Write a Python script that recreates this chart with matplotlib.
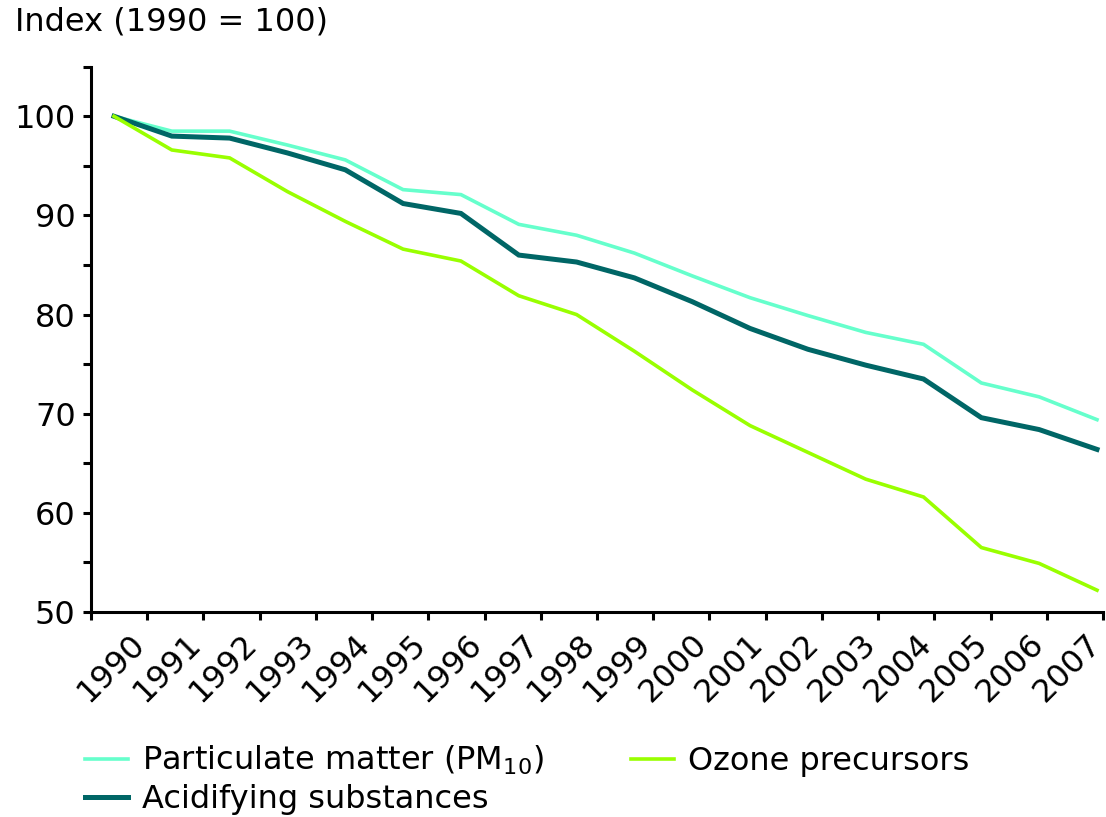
import numpy as np
import matplotlib
matplotlib.use("Agg")
import matplotlib.pyplot as plt

years = list(range(1990, 2008))
year_labels = [str(y) for y in years]

pm10 = [100.0, 98.5, 98.5, 97.1, 95.6, 92.6, 92.1, 89.1, 88.0, 86.2,
        83.9, 81.7, 79.9, 78.2, 77.0, 73.1, 71.7, 69.4]
acidifying = [100.0, 98.0, 97.8, 96.3, 94.6, 91.2, 90.2, 86.0, 85.3, 83.7,
              81.3, 78.6, 76.5, 74.9, 73.5, 69.6, 68.4, 66.4]
ozone = [100.0, 96.6, 95.8, 92.4, 89.4, 86.6, 85.4, 81.9, 80.0, 76.3,
         72.4, 68.8, 66.1, 63.4, 61.6, 56.5, 54.9, 52.2]

series_names = ["Particulate matter (PM$_{10}$)", "Acidifying substances", "Ozone precursors"]
series_colors = ["#66FFCC", "#006666", "#99FF00"]

W, H = 1106, 817
fig = plt.figure(figsize=(W / 100, H / 100), dpi=100)
plt.rcParams['font.family'] = ['DejaVu Sans']
FS = 23

ax_left, ax_right, ax_top, ax_bottom = 91, 1103, 66.7, 612
ax = fig.add_axes([ax_left / W, 1 - ax_bottom / H, (ax_right - ax_left) / W, (ax_bottom - ax_top) / H])

px_per_year = (1097 - 114) / 17.0
x0 = 1990 - (114 - ax_left) / px_per_year
x1 = 2007 + (ax_right - 1097) / px_per_year
ax.set_xlim(x0, x1)
ax.set_ylim(50, 105)

lines = []
for vals, name, col, lw in zip([pm10, acidifying, ozone], series_names, series_colors, [2.6, 3.6, 2.6]):
    ln, = ax.plot(years, vals, color=col, lw=lw, label=name, solid_joinstyle='miter')
    lines.append(ln)

for s in ['top', 'right']:
    ax.spines[s].set_visible(False)
for s in ['left', 'bottom']:
    ax.spines[s].set_linewidth(2.2)
    ax.spines[s].set_color('black')

# y ticks
ax.set_yticks(np.arange(50, 106, 5))
ax.set_yticklabels([str(v) if v % 10 == 0 else '' for v in range(50, 106, 5)], fontsize=FS)
ax.tick_params(axis='y', direction='out', length=6, width=2.2, pad=5)

# x ticks: boundaries as major ticks, labels as minor
bounds = np.linspace(x0, x1, len(years) + 1)
step = bounds[1] - bounds[0]
label_pos = bounds[:-1] + 0.68 * step
ax.set_xticks(bounds)
ax.set_xticklabels([''] * len(bounds))
ax.tick_params(axis='x', which='major', direction='out', length=6, width=2.2)
ax.set_xticks(label_pos, minor=True)
ax.set_xticklabels(year_labels, minor=True, fontsize=FS, rotation=45, ha='right',
                   rotation_mode='anchor')
ax.tick_params(axis='x', which='minor', length=0, pad=12)

fig.text(15 / W, 1 - 22 / H, "Index (1990 = 100)", fontsize=FS, va='center', ha='left')

handles = [lines[0], lines[1], lines[2]]
leg = fig.legend(handles, [h.get_label() for h in handles], ncol=2, loc='upper left',
                 bbox_to_anchor=(85 / W, 1 - 744 / H), frameon=False, fontsize=FS,
                 borderpad=0, borderaxespad=0, handlelength=1.35, handletextpad=0.45,
                 columnspacing=2.7, labelspacing=0.2)

fig.savefig("out.png", dpi=100)
